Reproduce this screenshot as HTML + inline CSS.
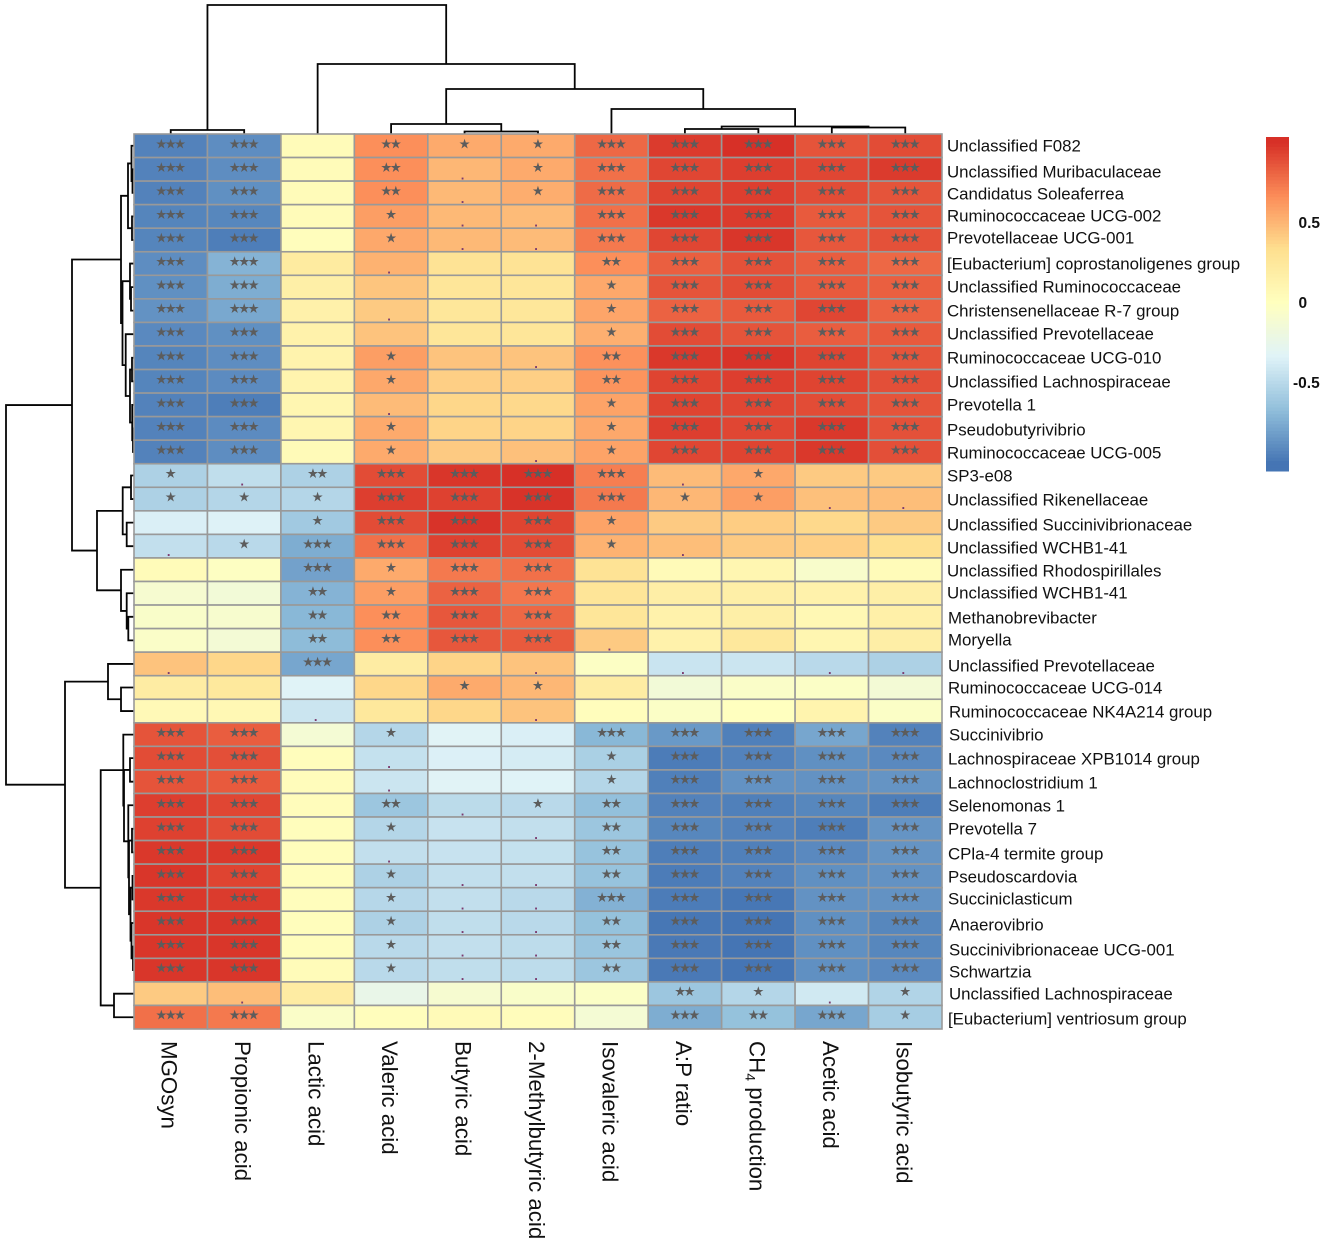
<!DOCTYPE html>
<html lang="en">
<head>
<meta charset="utf-8">
<title>Correlation heatmap</title>
<style>
html,body{margin:0;padding:0;background:#fff;width:1325px;height:1244px;overflow:hidden}
svg{display:block}
text{font-family:"Liberation Sans",Arial,sans-serif}
</style>
</head>
<body>
<svg id="chart" width="1325" height="1244" viewBox="0 0 1325 1244" xmlns="http://www.w3.org/2000/svg">
<g font-size="16.85" fill="#111">
<text x="947" y="151.5">Unclassified F082</text>
<text x="947" y="177.5">Unclassified Muribaculaceae</text>
<text x="947" y="199.5">Candidatus Soleaferrea</text>
<text x="947" y="221.5">Ruminococcaceae UCG-002</text>
<text x="947" y="243.5">Prevotellaceae UCG-001</text>
<text x="947" y="269.5">[Eubacterium] coprostanoligenes group</text>
<text x="947" y="292.5">Unclassified Ruminococcaceae</text>
<text x="947" y="316.5">Christensenellaceae R-7 group</text>
<text x="947" y="339.5">Unclassified Prevotellaceae</text>
<text x="947" y="363.5">Ruminococcaceae UCG-010</text>
<text x="947" y="387.5">Unclassified Lachnospiraceae</text>
<text x="947" y="410.5">Prevotella 1</text>
<text x="947" y="435.5">Pseudobutyrivibrio</text>
<text x="947" y="458.5">Ruminococcaceae UCG-005</text>
<text x="947" y="481.5">SP3-e08</text>
<text x="947" y="505.5">Unclassified Rikenellaceae</text>
<text x="947" y="530.5">Unclassified Succinivibrionaceae</text>
<text x="947" y="553.5">Unclassified WCHB1-41</text>
<text x="947" y="576.5">Unclassified Rhodospirillales</text>
<text x="947" y="598.5">Unclassified WCHB1-41</text>
<text x="948" y="623.5">Methanobrevibacter</text>
<text x="948" y="645.5">Moryella</text>
<text x="948" y="671.5">Unclassified Prevotellaceae</text>
<text x="948" y="693.5">Ruminococcaceae UCG-014</text>
<text x="949" y="717.5">Ruminococcaceae NK4A214 group</text>
<text x="949" y="740.5">Succinivibrio</text>
<text x="948" y="764.5">Lachnospiraceae XPB1014 group</text>
<text x="948" y="788.5">Lachnoclostridium 1</text>
<text x="948" y="811.5">Selenomonas 1</text>
<text x="948" y="834.5">Prevotella 7</text>
<text x="948" y="859.5">CPla-4 termite group</text>
<text x="948" y="882.5">Pseudoscardovia</text>
<text x="948" y="904.5">Succiniclasticum</text>
<text x="949" y="930.5">Anaerovibrio</text>
<text x="949" y="955.5">Succinivibrionaceae UCG-001</text>
<text x="949" y="977.5">Schwartzia</text>
<text x="949" y="999.5">Unclassified Lachnospiraceae</text>
<text x="948" y="1024.5">[Eubacterium] ventriosum group</text>
</g>
</svg>
<script>
const columns = ["MGOsyn","Propionic acid","Lactic acid","Valeric acid","Butyric acid","2-Methylbutyric acid","Isovaleric acid","A:P ratio","CH4 production","Acetic acid","Isobutyric acid"];
const rowCount = 38;
const values = [
[-.94,-.89,.04,.66,.55,.55,.8,.96,1,.87,.9],
[-.94,-.89,.04,.66,.5,.55,.77,.92,.95,.92,.96],
[-.94,-.88,.04,.66,.49,.54,.79,.93,.95,.9,.87],
[-.93,-.92,.04,.6,.49,.48,.77,.97,.96,.85,.87],
[-.93,-.96,.02,.56,.49,.48,.74,.92,.98,.86,.88],
[-.89,-.72,.22,.52,.3,.3,.66,.83,.88,.84,.8],
[-.88,-.75,.17,.44,.27,.27,.56,.87,.9,.85,.83],
[-.87,-.77,.15,.42,.26,.26,.57,.82,.85,.92,.82],
[-.91,-.88,.14,.45,.27,.27,.53,.9,.87,.84,.85],
[-.93,-.89,.13,.6,.45,.45,.65,.97,.99,.93,.87],
[-.93,-.9,.12,.56,.4,.4,.64,.93,.95,.93,.89],
[-.94,-.96,.1,.48,.37,.36,.58,.93,.92,.9,.87],
[-.94,-.9,.1,.55,.38,.38,.56,.95,.92,.97,.88],
[-.94,-.89,.05,.55,.42,.46,.58,.92,.93,.97,.89],
[-.55,-.47,-.55,.9,.98,1,.72,.48,.56,.42,.42],
[-.55,-.52,-.52,.95,.94,.99,.74,.5,.6,.46,.47],
[-.36,-.34,-.6,.9,.99,.93,.58,.42,.41,.36,.42],
[-.46,-.5,-.75,.77,.94,.9,.52,.47,.42,.4,.33],
[.04,-.02,-.8,.55,.74,.77,.3,.05,.1,-.07,.04],
[-.1,-.14,-.72,.6,.82,.75,.28,.18,.17,.14,.17],
[-.06,-.09,-.7,.66,.86,.8,.27,.14,.17,.08,.16],
[-.05,-.13,-.68,.66,.86,.85,.42,.14,.25,.1,.18],
[.45,.37,-.78,.2,.38,.45,-.03,-.43,-.42,-.5,-.55],
[.2,.24,-.33,.37,.55,.5,.2,-.14,-.05,-.04,-.13],
[.06,.08,-.42,.25,.37,.45,.02,-.04,0,.12,-.04],
[.87,.84,-.12,-.52,-.32,-.36,-.7,-.84,-.95,-.78,-.94],
[.9,.89,.02,-.45,-.35,-.38,-.56,-.97,-.94,-.88,-.91],
[.87,.85,.03,-.42,-.32,-.33,-.52,-.95,-.87,-.87,-.86],
[.95,.92,.03,-.62,-.49,-.5,-.66,-.94,-.95,-.92,-.96],
[.94,.9,.02,-.52,-.44,-.46,-.62,-.92,-.94,-.96,-.86],
[.97,.97,.02,-.46,-.44,-.45,-.64,-.96,-.95,-.91,-.86],
[.98,.93,.02,-.55,-.46,-.46,-.64,-.97,-.94,-.88,-.87],
[.97,.96,.02,-.51,-.46,-.5,-.73,-.97,-.99,-.87,-.87],
[.98,.98,.02,-.55,-.47,-.5,-.65,-.99,-1,-.88,-.92],
[.98,.98,.02,-.5,-.46,-.48,-.63,-.98,-1,-.88,-.92],
[.98,.98,.04,-.5,-.47,-.48,-.62,-.98,-1,-.88,-.91],
[.42,.47,.2,-.24,-.1,-.06,-.04,-.62,-.52,-.4,-.53],
[.77,.74,-.05,.02,.05,.03,-.12,-.75,-.65,-.78,-.58]
];
const significance = [
"*** *** - ** * * *** *** *** *** ***",
"*** *** - ** . * *** *** *** *** ***",
"*** *** - ** . * *** *** *** *** ***",
"*** *** - * . . *** *** *** *** ***",
"*** *** - * . . *** *** *** *** ***",
"*** *** - . - - ** *** *** *** ***",
"*** *** - - - - * *** *** *** ***",
"*** *** - . - - * *** *** *** ***",
"*** *** - - - - * *** *** *** ***",
"*** *** - * - . ** *** *** *** ***",
"*** *** - * - - ** *** *** *** ***",
"*** *** - . - - * *** *** *** ***",
"*** *** - * - - * *** *** *** ***",
"*** *** - * - . * *** *** *** ***",
"* . ** *** *** *** *** . * - -",
"* * * *** *** *** *** * * . .",
"- - * *** *** *** * - - - -",
". * *** *** *** *** * . - - -",
"- - *** * *** *** - - - - -",
"- - ** * *** *** - - - - -",
"- - ** ** *** *** - - - - -",
"- - ** ** *** *** . - - - -",
". - *** - - . - . - . .",
"- - - - * * - - - - -",
"- - . - - . - - - - -",
"*** *** - * - - *** *** *** *** ***",
"*** *** - . - - * *** *** *** ***",
"*** *** - . - - * *** *** *** ***",
"*** *** - ** . * ** *** *** *** ***",
"*** *** - * - . ** *** *** *** ***",
"*** *** - . - - ** *** *** *** ***",
"*** *** - * . . ** *** *** *** ***",
"*** *** - * . . *** *** *** *** ***",
"*** *** - * . . ** *** *** *** ***",
"*** *** - * . . ** *** *** *** ***",
"*** *** - * . . ** *** *** *** ***",
"- . - - - - - ** * . *",
"*** *** - - - - - *** ** *** *"
];
const legendTicks = [0.5, 0, -0.5];
const paletteColours = ["#4575B4","#91BFDB","#E0F3F8","#FFFFBF","#FEE090","#FC8D59","#D73027"];
/* Dendrograms: [merge distance, left child, right child]; a number is a leaf index. */
const columnTree = [128,[3,0,1],[69,2,[44,[9,3,[1.5,4,5]],[24,6,[6.5,[4,7,8],[5.5,9,10]]]]]];
const rowTree = [128,
 [62,
  [13,
   [6,[2.5,0,[1.5,1,2]],[2,3,4]],
   [11.5,[4,5,[3,6,7]],[8.3,8,[4,[2,9,10],[1.8,11,[1,12,13]]]]]],
  [37,
   [11.3,[3,14,15],[7.3,16,17]],
   [13,18,[7.3,19,[5.7,20,21]]]]],
 [69,
  [26,22,[13,23,24]],
  [33.3,
   [10.7,25,[10,[4,26,27],[5.7,28,[5,[2,29,30],[3.5,[1.5,31,32],[2.5,33,[1,34,35]]]]]]],
   [20,36,37]]]];

const NS = "http://www.w3.org/2000/svg";
const svg = document.getElementById("chart");
const plot = {left:134, top:134, right:942, bottom:1029};
const cellW = (plot.right - plot.left) / columns.length;
const cellH = (plot.bottom - plot.top) / rowCount;
const xScale = i => plot.left + cellW * (i + 0.5);
const yScale = i => plot.top + cellH * (i + 0.5);
const topDist = d => plot.top - 1 - d;
const leftDist = d => plot.left - d;
const legendY = v => 303 - v * 160;

function colour(v) {
  const t = Math.max(0, Math.min(1, (v + 1) / 2)) * (paletteColours.length - 1);
  const i = Math.min(paletteColours.length - 2, Math.floor(t));
  const f = t - i;
  const a = paletteColours[i], b = paletteColours[i + 1];
  const ch = k => {
    const p = parseInt(a.substr(k, 2), 16), q = parseInt(b.substr(k, 2), 16);
    return Math.round(p + (q - p) * f);
  };
  return "rgb(" + ch(1) + "," + ch(3) + "," + ch(5) + ")";
}
function make(tag, attrs, parent) {
  const el = document.createElementNS(NS, tag);
  for (const k in attrs) el.setAttribute(k, attrs[k]);
  (parent || svg).appendChild(el);
  return el;
}

/* column dendrogram */
const colDendro = make("g", {fill:"none", stroke:"#050505", "stroke-width":1.8});


function drawTop(node) {
  if (typeof node === "number") return {pos:xScale(node), h:plot.top - 0.5};
  const a = drawTop(node[1]), b = drawTop(node[2]);
  const y = topDist(node[0]);
  const link = make("path", {d:"M"+a.pos+" "+a.h+"V"+y+"H"+b.pos+"V"+b.h}, colDendro);
  
  
  return {pos:(a.pos + b.pos) / 2, h:y};
}
drawTop(columnTree);

/* row dendrogram */
const rowDendro = make("g", {fill:"none", stroke:"#050505", "stroke-width":1.8});


function drawLeft(node) {
  if (typeof node === "number") return {pos:yScale(node), h:plot.left - 0.5};
  const a = drawLeft(node[1]), b = drawLeft(node[2]);
  const x = leftDist(node[0]);
  const link = make("path", {d:"M"+a.h+" "+a.pos+"H"+x+"V"+b.pos+"H"+b.h}, rowDendro);
  
  
  return {pos:(a.pos + b.pos) / 2, h:x};
}
drawLeft(rowTree);

/* heatmap cells */
const cells = make("g", {});


values.forEach((row, r) => {
  row.forEach((v, c) => {
    const rect = make("rect", {x:plot.left + c * cellW, y:plot.top + r * cellH, width:cellW, height:cellH,
      fill:colour(v), stroke:"#999999", "stroke-width":1.6}, cells);
    
    
  });
});

/* significance marks */
const marks = make("g", {});


significance.forEach((line, r) => {
  line.split(" ").forEach((m, c) => {
    if (m === "-") return;
    if (m === ".") {
      const dot = make("text", {x:xScale(c) - 2, y:yScale(r) + 10, "text-anchor":"middle",
        "font-size":13, "font-weight":"bold", fill:"#7b3a6e"}, marks);
      dot.textContent = ".";
      
      
    } else {
      const star = make("text", {x:xScale(c), y:yScale(r) + 1.5, "text-anchor":"middle",
        "font-size":10.5, fill:"#5c5c5c", stroke:"#5c5c5c", "stroke-width":0.7}, marks);
      star.style.fontFamily = '"DejaVu Sans",sans-serif';
      star.textContent = "\u2605".repeat(m.length);
      
      
    }
  });
});

/* column labels */
columns.forEach((name, c) => {
  const cx = xScale(c) - 9;
  const t = make("text", {transform:"translate(" + cx + ",1041) rotate(90)", "font-size":22.3, fill:"#111"});
  const m = name.match(/^(CH)4(.*)$/);
  if (m) {
    const a = make("tspan", {}, t); a.textContent = m[1];
    const s = make("tspan", {dy:4, "font-size":14}, t); s.textContent = "4";
    const b = make("tspan", {dy:-4}, t); b.textContent = m[2];
  } else {
    t.textContent = name;
  }
  
  
});

/* colour legend */
const legend = make("g", {});


const legendTop = 1.0375, legendBottom = -1.05, legendSteps = 100;
for (let i = 0; i < legendSteps; i++) {
  const v1 = legendTop + (legendBottom - legendTop) * i / legendSteps;
  const v2 = legendTop + (legendBottom - legendTop) * (i + 1) / legendSteps;
  const strip = make("rect", {x:1266, y:legendY(v1), width:23, height:legendY(v2) - legendY(v1) + 0.5,
    fill:colour((v1 + v2) / 2)}, legend);
  
  
}
legendTicks.forEach(v => {
  const t = make("text", {x:v < 0 ? 1293 : 1298.5, y:legendY(v) + 5, "font-size":15.5, "font-weight":"bold", fill:"#111"}, legend);
  t.textContent = String(v);
  
  
});
</script>
</body>
</html>
